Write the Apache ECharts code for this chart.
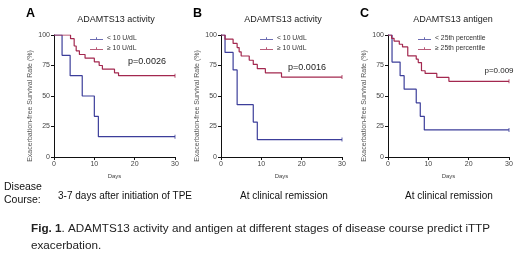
<!DOCTYPE html>
<html><head><meta charset="utf-8">
<script src="https://cdn.jsdelivr.net/npm/echarts@6/dist/echarts.min.js"></script>
<style>html,body{margin:0;padding:0;background:#fff}#c{width:520px;height:259px}</style>
</head><body><div id="c"></div>
<script>
// Panel A: 3-7 days after initiation of TPE, ADAMTS13 activity
var aLowDays  = [0, 2, 4, 7, 10, 11, 30];
var aLowSurv  = [100, 83.3, 66.7, 50, 33.3, 16.7, 16.7];
var aHighDays = [0, 4.1, 5, 5.5, 6.3, 7.7, 10, 11.2, 12, 15, 16, 30];
var aHighSurv = [100, 97, 91, 87, 84, 81, 78, 75, 72, 69, 66.7, 66.7];
// Panel B: at clinical remission, ADAMTS13 activity
var bLowDays  = [0, 1, 3, 4, 8, 9, 30];
var bLowSurv  = [100, 85.7, 71.4, 42.9, 28.6, 14.3, 14.3];
var bHighDays = [0, 1, 3, 4, 4.5, 5, 7, 8, 9, 11, 15, 30];
var bHighSurv = [100, 96.6, 93.1, 89.7, 86.2, 82.8, 79.3, 75.9, 72.4, 69, 65.5, 65.5];
// Panel C: at clinical remission, ADAMTS13 antigen
var cLowDays  = [0, 1, 3, 4, 7, 8, 9, 30];
var cLowSurv  = [100, 77.8, 66.7, 55.6, 44.4, 33.3, 22.2, 22.2];
var cHighDays = [0, 0.9, 1.5, 2.8, 3.6, 4.9, 7, 7.5, 8.3, 9.2, 12.1, 15.1, 30];
var cHighSurv = [100, 97.3, 95, 92.4, 90.2, 82.9, 80.2, 77.4, 70.7, 68.5, 65.2, 62, 62];

var xTicks = [0, 10, 20, 30];
var yTicks = [0, 25, 50, 75, 100];

var panelLetters = ['A', 'B', 'C'];
var panelTitles = ['ADAMTS13 activity', 'ADAMTS13 activity', 'ADAMTS13 antigen'];
var lowNames = ['< 10 U/dL', '< 10 U/dL ', '< 25th percentile'];
var highNames = ['\u2265 10 U/dL', '\u2265 10 U/dL ', '\u2265 25th percentile'];
var pValues = ['p=0.0026', 'p=0.0016', 'p=0.009'];
var courses = ['3-7 days after initiation of TPE', 'At clinical remission', 'At clinical remission'];
var yName = 'Exacerbation-free Survival Rate (%)';
var xName = 'Days';
var captionBold = 'Fig. 1';
var captionLine1 = '. ADAMTS13 activity and antigen at different stages of disease course predict iTTP';
var captionLine2 = 'exacerbation.';

var BLUE = '#3c3e9a', RED = '#a3284f';
var FONT = '"Liberation Sans", Arial, sans-serif';
var CAP = 11.7;

var lows = [[aLowDays, aLowSurv], [bLowDays, bLowSurv], [cLowDays, cLowSurv]];
var highs = [[aHighDays, aHighSurv], [bHighDays, bHighSurv], [cHighDays, cHighSurv]];

function pairs(d) { return d[0].map(function (x, i) { return [x, d[1][i]]; }); }
function last(d) { var n = d[0].length - 1; return [[d[0][n], d[1][n]]]; }

var gridLefts = [54, 221, 388];
var grids = [], xAxes = [], yAxes = [], series = [], legends = [], graphics = [];
var pPos = [[147, 62], [307, 68], [499, 71]];
var legPos = [[85, 30], [255, 30], [413, 30]];
var titleX = [116, 283, 453];
var letterX = [26, 193, 360];
var courseX = [125, 284, 449];
var yNameX = [30, 197, 364];

for (var i = 0; i < 3; i++) {
  grids.push({ left: gridLefts[i], top: 35, width: 121, height: 122 });
  xAxes.push({
    gridIndex: i, type: 'value', min: 0, max: 30, interval: 10,
    name: xName, nameLocation: 'middle', nameGap: 16,
    nameTextStyle: { fontSize: 6, color: '#444', fontFamily: FONT },
    axisLine: { onZero: false, lineStyle: { color: '#111', width: 1 } },
    axisTick: { length: 3, lineStyle: { color: '#111' } },
    axisLabel: { fontSize: 7, color: '#444', margin: 4, fontFamily: FONT },
    splitLine: { show: false }
  });
  yAxes.push({
    gridIndex: i, type: 'value', min: 0, max: 100, interval: 25,
    axisLine: { show: true, lineStyle: { color: '#111', width: 1 } },
    axisTick: { show: true, length: 3, lineStyle: { color: '#111' } },
    axisLabel: { fontSize: 7, color: '#444', margin: 4, fontFamily: FONT },
    splitLine: { show: false }
  });
  series.push({
    name: lowNames[i], type: 'line', step: 'end', xAxisIndex: i, yAxisIndex: i,
    data: pairs(lows[i]), symbol: 'none', lineStyle: { color: BLUE, width: 1.2 },
    itemStyle: { color: BLUE }, animation: false
  });
  series.push({
    name: highNames[i], type: 'line', step: 'end', xAxisIndex: i, yAxisIndex: i,
    data: pairs(highs[i]), symbol: 'none', lineStyle: { color: RED, width: 1.2 },
    itemStyle: { color: RED }, animation: false
  });
  series.push({
    type: 'scatter', xAxisIndex: i, yAxisIndex: i, data: last(lows[i]),
    symbol: 'rect', symbolSize: [1, 4], itemStyle: { color: BLUE }, animation: false, silent: true
  });
  series.push({
    type: 'scatter', xAxisIndex: i, yAxisIndex: i, data: last(highs[i]),
    symbol: 'rect', symbolSize: [1, 4], itemStyle: { color: RED }, animation: false, silent: true
  });
  legends.push({
    data: [lowNames[i], highNames[i]], orient: 'vertical',
    left: legPos[i][0], top: legPos[i][1], itemGap: 3, itemWidth: 13, itemHeight: 5,
    icon: 'path://M0,4.4H20V5.6H0Z M9.4,2H10.6V4.4H9.4Z',
    textStyle: { fontSize: 6.8, color: '#333', fontFamily: FONT, padding: [0, 0, 0, -1] },
    selectedMode: false
  });
  graphics.push({ type: 'text', left: letterX[i], top: 7,
    style: { text: panelLetters[i], fontSize: 12.5, fontWeight: 'bold', fontFamily: FONT, fill: '#000' } });
  graphics.push({ type: 'text', x: titleX[i], y: 20,
    style: { text: panelTitles[i], fontSize: 9, fontFamily: FONT, fill: '#222', align: 'center', verticalAlign: 'middle' } });
  graphics.push({ type: 'text', x: yNameX[i], y: 106, rotation: Math.PI / 2,
    style: { text: yName, fontSize: 7, fontFamily: FONT, fill: '#555', align: 'center', verticalAlign: 'middle' } });
  graphics.push({ type: 'text', x: pPos[i][0], y: pPos[i][1],
    style: { text: pValues[i], fontSize: (i === 2 ? 8 : 9), fontFamily: FONT, fill: '#222', align: 'center', verticalAlign: 'middle' } });
  graphics.push({ type: 'text', x: courseX[i], y: 196,
    style: { text: courses[i], fontSize: 10, fontFamily: FONT, fill: '#111', align: 'center', verticalAlign: 'middle' } });
}
graphics.push({ type: 'text', x: 4, y: 187,
  style: { text: 'Disease', fontSize: 10.5, fontFamily: FONT, fill: '#111', verticalAlign: 'middle' } });
graphics.push({ type: 'text', x: 4, y: 200,
  style: { text: 'Course:', fontSize: 10.5, fontFamily: FONT, fill: '#111', verticalAlign: 'middle' } });
graphics.push({ type: 'text', x: 31, y: 229,
  style: { text: '{b|' + captionBold + '}{n|' + captionLine1 + '}',
    fontSize: CAP, fontFamily: FONT, fill: '#222', verticalAlign: 'middle',
    rich: { b: { fontWeight: 'bold', fontSize: CAP, fontFamily: FONT, fill: '#222' },
            n: { fontSize: CAP, fontFamily: FONT, fill: '#222' } } } });
graphics.push({ type: 'text', x: 31, y: 246,
  style: { text: captionLine2, fontSize: CAP, fontFamily: FONT, fill: '#222', verticalAlign: 'middle' } });

var chart = echarts.init(document.getElementById('c'), null, { renderer: 'canvas' });
chart.setOption({
  backgroundColor: '#fff', animation: false,
  grid: grids, xAxis: xAxes, yAxis: yAxes, series: series, legend: legends, graphic: graphics
});
</script></body></html>
